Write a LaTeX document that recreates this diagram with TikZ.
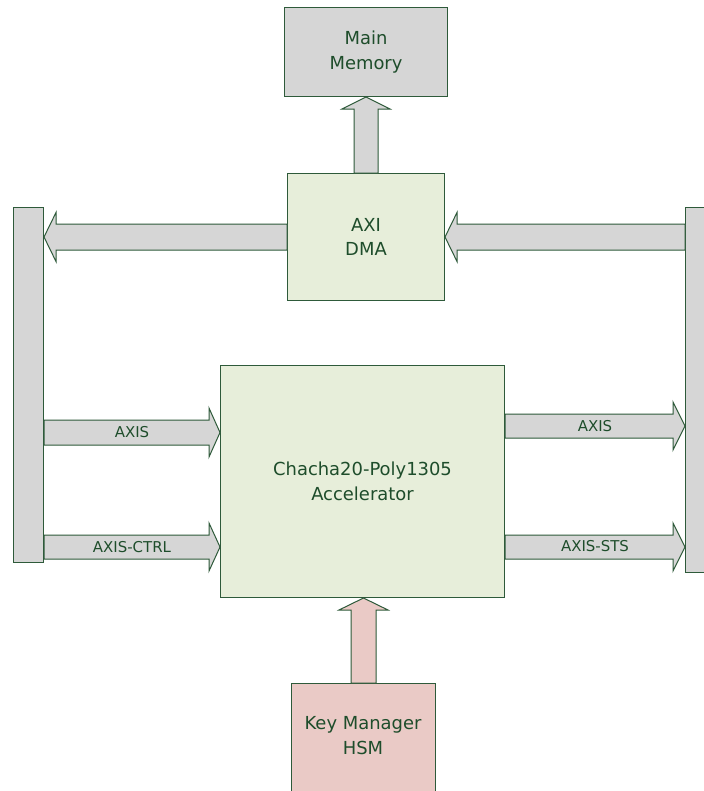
\documentclass[tikz,border=0pt]{standalone}
\usepackage{fontspec}
\setmainfont{DejaVu Sans}
\usetikzlibrary{calc}
\definecolor{edgegreen}{HTML}{2E5A3A}
\definecolor{txtgreen}{HTML}{1E4D2B}
\definecolor{greyfill}{HTML}{D6D6D6}
\definecolor{greenfill}{HTML}{E7EEDA}
\definecolor{pinkfill}{HTML}{EACAC6}
\tikzset{
  box/.style={draw=edgegreen, line width=1bp, rectangle, inner sep=0pt, anchor=north west,
    text=txtgreen, align=center, font=\fontsize{18}{25}\selectfont},
  greybox/.style={box, fill=greyfill},
  greenbox/.style={box, fill=greenfill},
  pinkbox/.style={box, fill=pinkfill},
  greyarrow/.style={draw=edgegreen, line width=1bp, fill=greyfill, line join=miter},
  pinkarrow/.style={draw=edgegreen, line width=1bp, fill=pinkfill, line join=miter},
  lbl/.style={text=txtgreen, font=\fontsize{15}{18}\selectfont, inner sep=0pt}
}
% #1 style, #2 source node, #3 target node, #4 centre, #5 half shaft, #6 half head, #7 head length
\newcommand{\blkright}[7]{%
  \draw[#1] (#2.east |- 0,#4-#5) -- ($(#3.west |- 0,#4-#5)+(-#7,0)$) -- ($(#3.west |- 0,#4-#6)+(-#7,0)$)
    -- (#3.west |- 0,#4) -- ($(#3.west |- 0,#4+#6)+(-#7,0)$) -- ($(#3.west |- 0,#4+#5)+(-#7,0)$)
    -- (#2.east |- 0,#4+#5) -- cycle;}
\newcommand{\blkleft}[7]{%
  \draw[#1] (#2.west |- 0,#4-#5) -- ($(#3.east |- 0,#4-#5)+(#7,0)$) -- ($(#3.east |- 0,#4-#6)+(#7,0)$)
    -- (#3.east |- 0,#4) -- ($(#3.east |- 0,#4+#6)+(#7,0)$) -- ($(#3.east |- 0,#4+#5)+(#7,0)$)
    -- (#2.west |- 0,#4+#5) -- cycle;}
\newcommand{\blkup}[7]{%
  \draw[#1] (#2.north -| #4-#5,0) -- ($(#3.south -| #4-#5,0)+(0,#7)$) -- ($(#3.south -| #4-#6,0)+(0,#7)$)
    -- (#3.south -| #4,0) -- ($(#3.south -| #4+#6,0)+(0,#7)$) -- ($(#3.south -| #4+#5,0)+(0,#7)$)
    -- (#2.north -| #4+#5,0) -- cycle;}
\begin{document}
\begin{tikzpicture}[x=1bp,y=-1bp]
\useasboundingbox (0,0) rectangle (704,791);
\clip (0,0) rectangle (704,791);
\fill[white] (0,0) rectangle (704,791);

\node[greybox, minimum width=163bp, minimum height=89bp] (mem) at (284,7) {Main\\Memory};
\node[greenbox, minimum width=157bp, minimum height=127bp] (dma) at (287,173) {AXI\\DMA};
\node[greybox, minimum width=30bp, minimum height=355bp] (lbar) at (13,207) {};
\node[greybox, minimum width=30bp, minimum height=365bp] (rbar) at (685,207) {};
\node[greenbox, minimum width=284bp, minimum height=232bp] (acc) at (220,365) {Chacha20-Poly1305\\Accelerator};
\node[pinkbox, minimum width=144bp, minimum height=130bp, text depth=0pt] (key) at (291,683) {};
\node[text=txtgreen, align=center, font=\fontsize{18}{25}\selectfont, inner sep=0pt] (keytxt) at (363,735.5) {Key Manager\\HSM};

% DMA to main memory
\blkup{greyarrow}{dma}{mem}{366}{12}{24}{12}
% DMA to left stream bar
\blkleft{greyarrow}{dma}{lbar}{237}{13}{24.5}{12}
% right stream bar to DMA
\blkleft{greyarrow}{rbar}{dma}{237}{13}{24.5}{12}
% left bar to accelerator
\blkright{greyarrow}{lbar}{acc}{432.5}{12.5}{24.5}{11}
\blkright{greyarrow}{lbar}{acc}{547}{12}{24}{11}
% accelerator to right bar
\blkright{greyarrow}{acc}{rbar}{426}{12}{24}{12}
\blkright{greyarrow}{acc}{rbar}{547}{12}{24}{12}
% key manager to accelerator
\blkup{pinkarrow}{key}{acc}{363.5}{12.5}{24.5}{12}

\node[lbl] (l1) at ($(lbar.east |- 0,432.5)!0.5!(acc.west |- 0,432.5)$) {AXIS};
\node[lbl] (l2) at ($(lbar.east |- 0,547)!0.5!(acc.west |- 0,547)$) {AXIS-CTRL};
\node[lbl] (l3) at ($(acc.east |- 0,426)!0.5!(rbar.west |- 0,426)$) {AXIS};
\node[lbl] (l4) at ($(acc.east |- 0,546)!0.5!(rbar.west |- 0,546)$) {AXIS-STS};
\end{tikzpicture}
\end{document}
